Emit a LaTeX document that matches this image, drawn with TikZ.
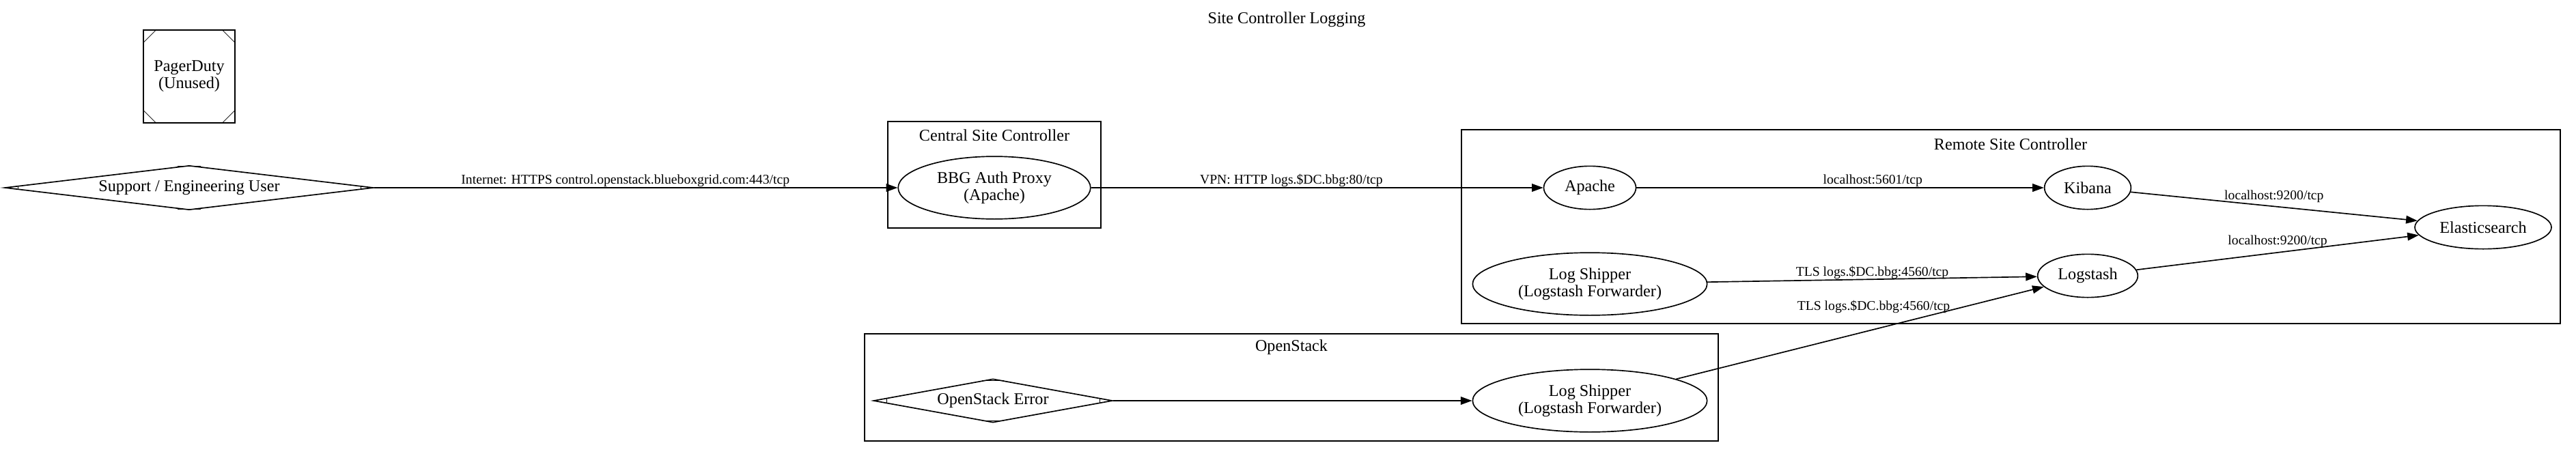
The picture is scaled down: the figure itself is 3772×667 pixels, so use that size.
\documentclass[tikz,border=0pt]{standalone}
\usepackage{fontspec}
\setmainfont{Liberation Serif}
\usetikzlibrary{shapes.geometric,arrows.meta,calc}
\tikzset{
  nodefont/.style={font=\fontsize{14.5}{15}\selectfont},
  svc/.style={draw,ellipse,line width=1pt,inner sep=0pt,align=center,nodefont},
  mdia/.style={draw,diamond,line width=1pt,inner sep=0pt,nodefont},
  msq/.style={draw,rectangle,line width=1pt,inner sep=0pt,align=center,nodefont},
  edgelbl/.style={font=\fontsize{11.8}{13}\selectfont,inner sep=0pt},
  conn/.style={line width=1pt,-{Triangle[length=10pt,width=7pt]}},
  cluster/.style={line width=1pt}
}
\begin{document}
\begin{tikzpicture}[x=0.6pt,y=-0.6pt]
  \useasboundingbox (0,0) rectangle (3772,667);
  \node [nodefont] (title) at (1884,29) {Site Controller Logging};
  \node [msq,minimum width=80.4pt,minimum height=81.6pt] (pager) at (277,112) {PagerDuty\\(Unused)};
  \draw (pager.north west) ++(12pt,0) -- ++(-12pt,-12pt);
  \draw (pager.north east) ++(-12pt,0) -- ++(12pt,-12pt);
  \draw (pager.south west) ++(12pt,0) -- ++(-12pt,12pt);
  \draw (pager.south east) ++(-12pt,0) -- ++(12pt,12pt);
  \node [mdia,aspect=8.3,minimum width=324pt,minimum height=39pt] (user) at (277,275) {Support / Engineering User};
  \node [mdia,aspect=5.5,minimum width=210pt,minimum height=38.4pt] (oserror) at (1454,587) {OpenStack Error};
  \foreach \d in {user,oserror} {
    \draw ($(\d.north)!10pt!(\d.west)$) -- ($(\d.north)!10pt!(\d.east)$);
    \draw ($(\d.south)!10pt!(\d.west)$) -- ($(\d.south)!10pt!(\d.east)$);
    \draw ($(\d.west)!12pt!(\d.north)$) -- ($(\d.west)!12pt!(\d.south)$);
    \draw ($(\d.east)!12pt!(\d.north)$) -- ($(\d.east)!12pt!(\d.south)$);
  }
  \draw [cluster] (1300,178) rectangle (1612,334);
  \node [nodefont] (centraltitle) at (1456,198) {Central Site Controller};
  \node [svc,minimum width=169pt,minimum height=55pt] (proxy) at (1456,275) {BBG Auth Proxy\\(Apache)};
  \draw [cluster] (2140,190) rectangle (3749,474);
  \node [nodefont] (remotetitle) at (2944,211) {Remote Site Controller};
  \node [svc,minimum width=81pt,minimum height=38pt] (apache) at (2328,275) {Apache};
  \node [svc,minimum width=76pt,minimum height=38pt] (kibana) at (3057,275) {Kibana};
  \node [svc,minimum width=120pt,minimum height=38pt] (elastic) at (3636,333) {Elasticsearch};
  \node [svc,minimum width=88pt,minimum height=38pt] (logstash) at (3057,404) {Logstash};
  \node [svc,minimum width=206pt,minimum height=55pt] (shipper) at (2328,416) {Log Shipper\\(Logstash Forwarder)};
  \draw [cluster] (1266,489) rectangle (2516,646);
  \node [nodefont] (ostitle) at (1891,509) {OpenStack};
  \node [svc,minimum width=206pt,minimum height=55pt] (osshipper) at (2328,587) {Log Shipper\\(Logstash Forwarder)};
  \draw [conn] (user) -- (proxy) node [edgelbl,pos=0.48,above] {Internet: HTTPS control.openstack.blueboxgrid.com:443/tcp};
  \draw [conn] (proxy) -- (apache) node [edgelbl,pos=0.443,above] {VPN: HTTP logs.\$DC.bbg:80/tcp};
  \draw [conn] (apache) -- (kibana) node [edgelbl,pos=0.58,above] {localhost:5601/tcp};
  \draw [conn] (kibana) -- (elastic) node [edgelbl,midway,above,yshift=3pt] {localhost:9200/tcp};
  \draw [conn] (logstash) -- (elastic) node [edgelbl,midway,above,yshift=4pt] {localhost:9200/tcp};
  \draw [conn] (shipper) -- (logstash) node [edgelbl,midway,above] {TLS logs.\$DC.bbg:4560/tcp};
  \draw [conn] (osshipper) -- (logstash) node [edgelbl,midway,xshift=12pt,yshift=23pt] {TLS logs.\$DC.bbg:4560/tcp};
  \draw [conn] (oserror) -- (osshipper);
\end{tikzpicture}
\end{document}
